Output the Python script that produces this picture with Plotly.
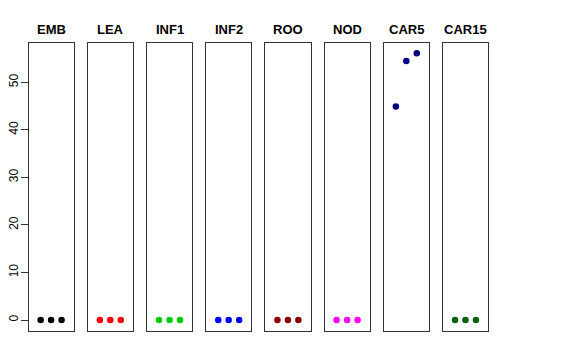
import plotly.graph_objects as go

panels = ["EMB", "LEA", "INF1", "INF2", "ROO", "NOD", "CAR5", "CAR15"]
colors = ["#000000", "#FF0000", "#00CD00", "#0000FF", "#8B0000", "#FF00FF", "#000080", "#006400"]
x_vals = [1, 2, 3]
y_EMB = [0, 0, 0]
y_LEA = [0, 0, 0]
y_INF1 = [0, 0, 0]
y_INF2 = [0, 0, 0]
y_ROO = [0, 0, 0]
y_NOD = [0, 0, 0]
y_CAR5 = [44.9, 54.5, 56.1]
y_CAR15 = [0, 0, 0]
series = [y_EMB, y_LEA, y_INF1, y_INF2, y_ROO, y_NOD, y_CAR5, y_CAR15]
y_ticks = [0, 10, 20, 30, 40, 50]

# page body has an 8px default margin; lay out in figure coords = screen - 8
OFF = 8
W, H = 576 - OFF, 360 - OFF
fig = go.Figure()
font = "Liberation Sans, Arial, Helvetica, sans-serif"
top_px, bot_px = 42.7 - OFF, 330.7 - OFF
ydom = [(H - bot_px) / H, (H - top_px) / H]
ymax = max(max(s) for s in series)
pad = 0.04 * ymax
yrange = [-pad, ymax + pad]
line_col = "#333333"

layout = dict(
    width=W, height=H, margin=dict(l=0, r=0, t=0, b=0, autoexpand=False),
    paper_bgcolor="white", plot_bgcolor="white", showlegend=False,
    font=dict(family=font, color="black"),
)
annotations = []
for i, (name, col, ys) in enumerate(zip(panels, colors, series)):
    left = 28.5 - OFF + 59.2 * i
    right = left + 45.2
    suffix = "" if i == 0 else str(i + 1)
    fig.add_trace(go.Scatter(
        x=x_vals, y=ys, mode="markers",
        marker=dict(color=col, size=6.5, line=dict(width=0)),
        xaxis="x" + suffix, yaxis="y" + suffix, hoverinfo="x+y",
    ))
    layout["xaxis" + suffix] = dict(
        domain=[left / W, right / W], range=[-0.16, 4.16],
        showline=True, mirror=True, linecolor=line_col, linewidth=1,
        showgrid=False, zeroline=False, showticklabels=False, ticks="",
        anchor="y" + suffix, fixedrange=True, automargin=False,
    )
    ydict = dict(
        domain=ydom, range=yrange,
        showline=True, mirror=True, linecolor=line_col, linewidth=1,
        showgrid=False, zeroline=False, anchor="x" + suffix, fixedrange=True,
        automargin=False,
    )
    if i == 0:
        ydict.update(tickvals=y_ticks, ticks="outside", ticklen=7, tickwidth=1,
                     tickcolor=line_col, tickangle=-90, ticklabelstandoff=-2,
                     tickfont=dict(size=12, family=font, color="black"))
    else:
        ydict.update(showticklabels=False, ticks="")
    layout["yaxis" + suffix] = ydict
    annotations.append(dict(
        text="<b>" + name + "</b>", x=(left + right) / 2 / W, y=1 - (29.5 - OFF) / H,
        xref="paper", yref="paper", xanchor="center", yanchor="middle",
        showarrow=False, font=dict(size=13, family=font, color="black"),
    ))
layout["annotations"] = annotations
fig.update_layout(**layout)
fig.write_html("out.html")
